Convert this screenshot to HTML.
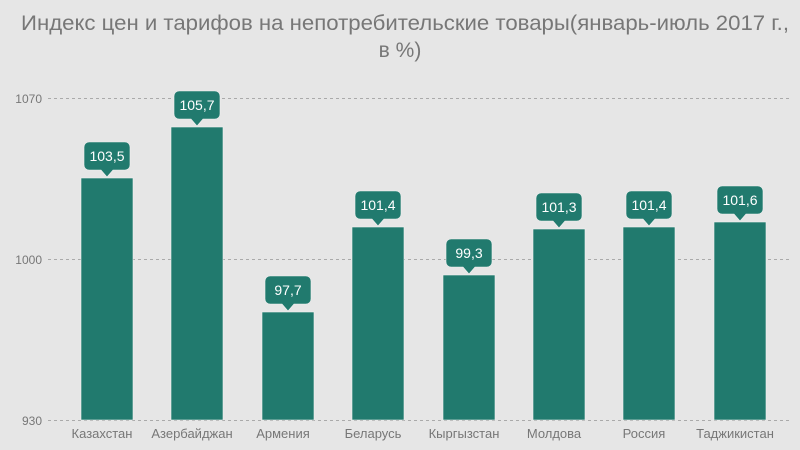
<!DOCTYPE html>
<html><head><meta charset="utf-8"><style>
html,body{margin:0;padding:0;background:#e6e6e6;}
svg{display:block;font-family:"Liberation Sans",sans-serif;}
</style></head><body>
<svg width="800" height="450" viewBox="0 0 800 450">
<rect width="800" height="450" fill="#e6e6e6"/>
<text x="405" y="30" text-anchor="middle" font-size="21" fill="#777" textLength="768" lengthAdjust="spacingAndGlyphs">Индекс цен и тарифов на непотребительские товары(январь-июль 2017 г.,</text>
<text x="400" y="57" text-anchor="middle" font-size="21" fill="#777">в %)</text>
<g stroke="#aaa" stroke-dasharray="3,3" stroke-width="1">
<line x1="48" y1="98.5" x2="790" y2="98.5"/>
<line x1="48" y1="259.5" x2="790" y2="259.5"/>
<line x1="48" y1="420.5" x2="790" y2="420.5"/>
</g>
<g font-size="12" fill="#777" text-anchor="end">
<text x="42" y="103">1070</text>
<text x="42" y="264">1000</text>
<text x="42" y="425">930</text>
</g>
<g fill="#217a6e" stroke="#f0f0f0" stroke-width="0.6">
<rect x="81" y="178" width="52" height="242"/>
<rect x="171" y="127" width="52" height="293"/>
<rect x="262" y="312" width="52" height="108"/>
<rect x="352" y="227" width="52" height="193"/>
<rect x="443" y="275" width="52" height="145"/>
<rect x="533" y="229" width="52" height="191"/>
<rect x="623" y="227" width="52" height="193"/>
<rect x="714" y="222" width="52" height="198"/>
</g>
<g font-size="13" fill="#777" text-anchor="middle">
<text x="102" y="438">Казахстан</text>
<text x="192" y="438">Азербайджан</text>
<text x="283" y="438">Армения</text>
<text x="373" y="438">Беларусь</text>
<text x="464" y="438">Кыргызстан</text>
<text x="554" y="438">Молдова</text>
<text x="644" y="438">Россия</text>
<text x="735" y="438">Таджикистан</text>
</g>
<g font-size="14" fill="#fff" text-anchor="middle">
<g transform="translate(107,178)"><path d="M-18,-36 h36 a5,5 0 0 1 5,5 v18 a5,5 0 0 1 -5,5 h-12 l-6,7 l-6,-7 h-12 a5,5 0 0 1 -5,-5 v-18 a5,5 0 0 1 5,-5z" fill="#217a6e" stroke="#f0f0f0" stroke-width="0.6"/><text y="-17">103,5</text></g>
<g transform="translate(197,127)"><path d="M-18,-36 h36 a5,5 0 0 1 5,5 v18 a5,5 0 0 1 -5,5 h-12 l-6,7 l-6,-7 h-12 a5,5 0 0 1 -5,-5 v-18 a5,5 0 0 1 5,-5z" fill="#217a6e" stroke="#f0f0f0" stroke-width="0.6"/><text y="-17">105,7</text></g>
<g transform="translate(288,312)"><path d="M-18,-36 h36 a5,5 0 0 1 5,5 v18 a5,5 0 0 1 -5,5 h-12 l-6,7 l-6,-7 h-12 a5,5 0 0 1 -5,-5 v-18 a5,5 0 0 1 5,-5z" fill="#217a6e" stroke="#f0f0f0" stroke-width="0.6"/><text y="-17">97,7</text></g>
<g transform="translate(378,227)"><path d="M-18,-36 h36 a5,5 0 0 1 5,5 v18 a5,5 0 0 1 -5,5 h-12 l-6,7 l-6,-7 h-12 a5,5 0 0 1 -5,-5 v-18 a5,5 0 0 1 5,-5z" fill="#217a6e" stroke="#f0f0f0" stroke-width="0.6"/><text y="-17">101,4</text></g>
<g transform="translate(469,275)"><path d="M-18,-36 h36 a5,5 0 0 1 5,5 v18 a5,5 0 0 1 -5,5 h-12 l-6,7 l-6,-7 h-12 a5,5 0 0 1 -5,-5 v-18 a5,5 0 0 1 5,-5z" fill="#217a6e" stroke="#f0f0f0" stroke-width="0.6"/><text y="-17">99,3</text></g>
<g transform="translate(559,229)"><path d="M-18,-36 h36 a5,5 0 0 1 5,5 v18 a5,5 0 0 1 -5,5 h-12 l-6,7 l-6,-7 h-12 a5,5 0 0 1 -5,-5 v-18 a5,5 0 0 1 5,-5z" fill="#217a6e" stroke="#f0f0f0" stroke-width="0.6"/><text y="-17">101,3</text></g>
<g transform="translate(649,227)"><path d="M-18,-36 h36 a5,5 0 0 1 5,5 v18 a5,5 0 0 1 -5,5 h-12 l-6,7 l-6,-7 h-12 a5,5 0 0 1 -5,-5 v-18 a5,5 0 0 1 5,-5z" fill="#217a6e" stroke="#f0f0f0" stroke-width="0.6"/><text y="-17">101,4</text></g>
<g transform="translate(740,222)"><path d="M-18,-36 h36 a5,5 0 0 1 5,5 v18 a5,5 0 0 1 -5,5 h-12 l-6,7 l-6,-7 h-12 a5,5 0 0 1 -5,-5 v-18 a5,5 0 0 1 5,-5z" fill="#217a6e" stroke="#f0f0f0" stroke-width="0.6"/><text y="-17">101,6</text></g>
</g>
</svg>
</body></html>
